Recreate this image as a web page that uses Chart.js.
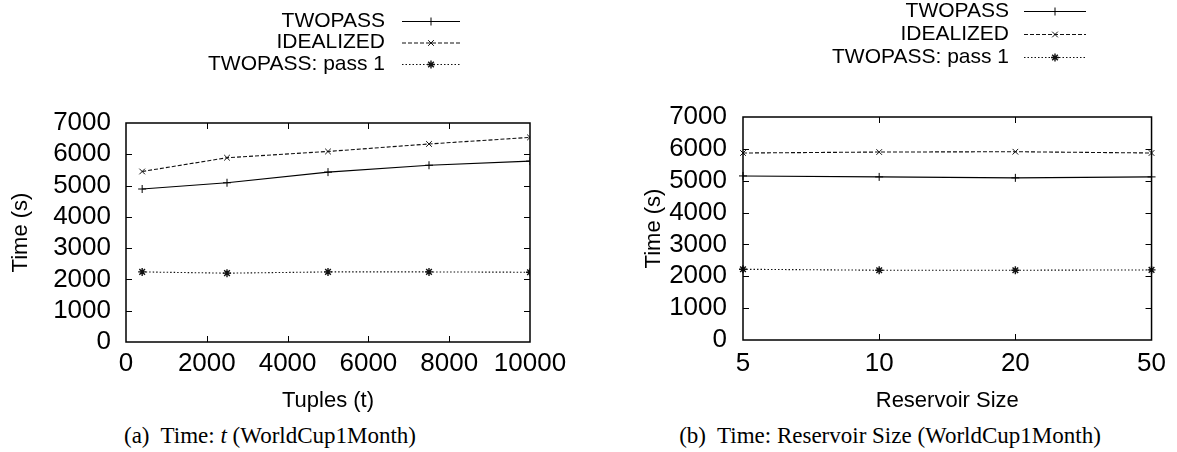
<!DOCTYPE html>
<html>
<head>
<meta charset="utf-8">
<script src="https://cdn.jsdelivr.net/npm/chart.js@4.4.0/dist/chart.umd.min.js"></script>
<style>
  body { margin: 0; background: #fff; width: 1177px; height: 452px; position: relative; overflow: hidden; }
  canvas { position: absolute; top: 0; }
  #chartA { left: 0; }
  #chartB { left: 590px; }
  .caption {
    position: absolute; top: 424px;
    font-family: "Liberation Serif", "Times New Roman", serif;
    font-size: 23px; line-height: 23px;
    white-space: nowrap; transform: translateX(-50%); color: #000;
  }
</style>
</head>
<body>
<canvas id="chartA" width="590" height="420"></canvas>
<canvas id="chartB" width="587" height="420"></canvas>
<div class="caption" style="left:270px">(a)&nbsp; Time: <i>t</i> (WorldCup1Month)</div>
<div class="caption" style="left:890px">(b)&nbsp; Time: Reservoir Size (WorldCup1Month)</div>
<script>
// series names
const seriesNames = ['TWOPASS', 'IDEALIZED', 'TWOPASS: pass 1'];

// (a) time vs tuples
const tuples = [400, 2500, 5000, 7500, 10000];
const twopassA = [4890, 5090, 5430, 5650, 5780];
const idealizedA = [5450, 5890, 6090, 6330, 6540];
const pass1A = [2240, 2200, 2240, 2240, 2230];

// (b) time vs reservoir size
const reservoirSizes = ['5', '10', '20', '50'];
const twopassB = [5150, 5120, 5090, 5120];
const idealizedB = [5870, 5900, 5910, 5870];
const pass1B = [2220, 2190, 2190, 2200];

const timeTicks = { min: 0, max: 7000, step: 1000 };

Chart.defaults.font.family = '"Liberation Sans", Arial, Helvetica, sans-serif';
Chart.defaults.color = '#000';

// gnuplot-like line styles
const styles = [
  { borderColor: '#000', borderWidth: 1.1, borderDash: [], pointStyle: 'cross', pointRadius: 4, pointBorderWidth: 1 },
  { borderColor: '#111', borderWidth: 1.1, borderDash: [4, 2], pointStyle: 'crossRot', pointRadius: 4, pointBorderWidth: 1 },
  { borderColor: '#111', borderWidth: 1.1, borderDash: [1.5, 2], pointStyle: 'star', pointRadius: 4, pointBorderWidth: 1.4 }
];

function makeDatasets(values, xs) {
  return values.map((vals, i) => Object.assign({
    label: seriesNames[i],
    data: xs ? vals.map((v, j) => ({ x: xs[j], y: v })) : vals,
    pointBorderColor: styles[i].borderColor,
    pointBackgroundColor: styles[i].borderColor,
    pointHoverRadius: 4,
    fill: false,
    tension: 0
  }, styles[i]));
}

// plain numbers, no thousands separator
const plain = v => String(v);

// box around the plot and small inward ticks on all four sides
const frameTicks = {
  id: 'frameTicks',
  afterDraw(chart) {
    const { ctx, chartArea: a } = chart;
    const x = chart.scales.x, y = chart.scales.y;
    const len = 6;
    ctx.save();
    ctx.strokeStyle = '#000';
    ctx.lineWidth = 1;
    ctx.beginPath();
    x.ticks.forEach((t, i) => {
      const px = Math.round(x.getPixelForTick(i)) + 0.5;
      if (px <= a.left + 2 || px >= a.right - 2) return;
      ctx.moveTo(px, a.bottom); ctx.lineTo(px, a.bottom - len);
      ctx.moveTo(px, a.top); ctx.lineTo(px, a.top + len);
    });
    y.ticks.forEach((t, i) => {
      const py = Math.round(y.getPixelForTick(i)) + 0.5;
      if (py <= a.top + 2 || py >= a.bottom - 2) return;
      ctx.moveTo(a.left, py); ctx.lineTo(a.left + len, py);
      ctx.moveTo(a.right, py); ctx.lineTo(a.right - len, py);
    });
    ctx.stroke();
    ctx.lineWidth = 1.5;
    ctx.strokeRect(a.left, a.top, a.right - a.left, a.bottom - a.top);
    ctx.restore();
  }
};

// key: label right-aligned, then a line sample with the marker in the middle
function gnuplotKey(cfg) {
  return {
    id: 'gnuplotKey',
    afterDraw(chart) {
      const ctx = chart.ctx;
      ctx.save();
      ctx.font = '21px "Liberation Sans", Arial, sans-serif';
      ctx.textAlign = 'right';
      ctx.textBaseline = 'middle';
      chart.data.datasets.forEach((ds, i) => {
        const y = cfg.rows[i];
        ctx.fillStyle = '#000';
        ctx.fillText(ds.label, cfg.textRight, y);
        ctx.strokeStyle = ds.borderColor;
        ctx.lineWidth = ds.borderWidth;
        ctx.setLineDash(ds.borderDash);
        ctx.beginPath();
        ctx.moveTo(cfg.lineFrom, y + 0.5);
        ctx.lineTo(cfg.lineTo, y + 0.5);
        ctx.stroke();
        ctx.setLineDash([]);
        ctx.lineWidth = ds.pointBorderWidth;
        Chart.helpers.drawPoint(ctx, {
          pointStyle: ds.pointStyle, radius: ds.pointRadius,
          borderWidth: ds.pointBorderWidth, rotation: 0
        }, (cfg.lineFrom + cfg.lineTo) / 2, y + 0.5);
      });
      ctx.restore();
    }
  };
}

function yScale(width, titlePad, tickPad) {
  return {
    min: timeTicks.min, max: timeTicks.max,
    ticks: { stepSize: timeTicks.step, font: { size: 26, lineHeight: 1 }, padding: tickPad, callback: plain },
    grid: { display: false, drawTicks: false },
    border: { display: false },
    title: { display: true, text: 'Time (s)', font: { size: 22, lineHeight: 1 }, padding: { top: titlePad, bottom: 0 } },
    afterFit: s => { s.width = width; }
  };
}

function xTitle(text) {
  return { display: true, text: text, font: { size: 22, lineHeight: 1 }, padding: { top: 0, bottom: 8 } };
}

new Chart(document.getElementById('chartA'), {
  type: 'line',
  data: { datasets: makeDatasets([twopassA, idealizedA, pass1A], tuples) },
  options: {
    responsive: false,
    animation: false,
    layout: { padding: { left: 0, top: 123, right: 60, bottom: 0 } },
    scales: {
      x: {
        type: 'linear', min: 0, max: 10000,
        ticks: { stepSize: 2000, font: { size: 26, lineHeight: 1 }, padding: 9, maxRotation: 0, autoSkip: false, callback: plain },
        grid: { display: false, drawTicks: false },
        border: { display: false },
        title: xTitle('Tuples (t)'),
        afterFit: s => { s.height = 78; }
      },
      y: yScale(126, 10, 15)
    },
    plugins: { legend: { display: false }, tooltip: { enabled: false } }
  },
  plugins: [frameTicks, gnuplotKey({ textRight: 385, lineFrom: 402, lineTo: 460, rows: [21, 42.5, 64] })]
});

new Chart(document.getElementById('chartB'), {
  type: 'line',
  data: { labels: reservoirSizes, datasets: makeDatasets([twopassB, idealizedB, pass1B]) },
  options: {
    responsive: false,
    animation: false,
    layout: { padding: { left: 50, top: 117, right: 20, bottom: 0 } },
    scales: {
      x: {
        type: 'category', offset: false,
        ticks: { font: { size: 26, lineHeight: 1 }, padding: 11, maxRotation: 0, autoSkip: false },
        grid: { display: false, drawTicks: false },
        border: { display: false },
        title: xTitle('Reservoir Size'),
        afterFit: s => { s.height = 80; }
      },
      y: yScale(103, 3, 16)
    },
    plugins: { legend: { display: false }, tooltip: { enabled: false } }
  },
  plugins: [frameTicks, gnuplotKey({ textRight: 419, lineFrom: 434, lineTo: 496, rows: [11, 34, 57] })]
});
</script>
</body>
</html>
